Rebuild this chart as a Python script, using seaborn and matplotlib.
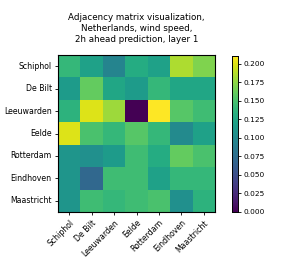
import numpy as np
import pandas as pd
import matplotlib
matplotlib.use("Agg")
import matplotlib.pyplot as plt
import seaborn as sns

stations = ["Schiphol", "De Bilt", "Leeuwarden", "Eelde", "Rotterdam", "Eindhoven", "Maastricht"]
row_schiphol   = [0.140, 0.120, 0.095, 0.130, 0.120, 0.185, 0.170]
row_debilt     = [0.115, 0.160, 0.125, 0.115, 0.140, 0.125, 0.125]
row_leeuwarden = [0.135, 0.200, 0.180, 0.000, 0.210, 0.155, 0.145]
row_eelde      = [0.200, 0.150, 0.140, 0.155, 0.140, 0.100, 0.120]
row_rotterdam  = [0.110, 0.105, 0.115, 0.145, 0.130, 0.160, 0.150]
row_eindhoven  = [0.110, 0.070, 0.145, 0.145, 0.120, 0.140, 0.140]
row_maastricht = [0.110, 0.145, 0.140, 0.145, 0.150, 0.105, 0.135]

matrix = pd.DataFrame([row_schiphol, row_debilt, row_leeuwarden, row_eelde,
                       row_rotterdam, row_eindhoven, row_maastricht],
                      index=stations, columns=stations)

fig = plt.figure(figsize=(2.83, 2.65), dpi=100)
ax = fig.add_axes([58/283, 1-212/265, 157/283, 157/265])
cax = fig.add_axes([232/283, 1-212/265, 6/283, 156/265])

sns.heatmap(matrix, ax=ax, cbar_ax=cax, cmap="viridis", vmin=0, vmax=0.2107,
            cbar_kws={"ticks": np.arange(0, 0.201, 0.025)})
for s in ax.spines.values():
    s.set_visible(True)
    s.set_linewidth(0.8)
for s in cax.spines.values():
    s.set_visible(True)
    s.set_linewidth(0.6)

ax.set_xticklabels(stations, rotation=45, ha="right", rotation_mode="anchor", fontsize=5.6)
ax.set_yticklabels(stations, rotation=0, fontsize=5.6)
ax.tick_params(length=2.5, width=0.6, pad=2)
cax.tick_params(labelsize=5.3, length=2.5, width=0.6, pad=1.5)
cax.yaxis.set_major_formatter(matplotlib.ticker.FormatStrFormatter("%.3f"))

ax.set_title("Adjacency matrix visualization,\nNetherlands, wind speed,\n2h ahead prediction, layer 1",
             fontsize=6.3, pad=9, linespacing=1.3)

fig.savefig("out.png", dpi=100)
